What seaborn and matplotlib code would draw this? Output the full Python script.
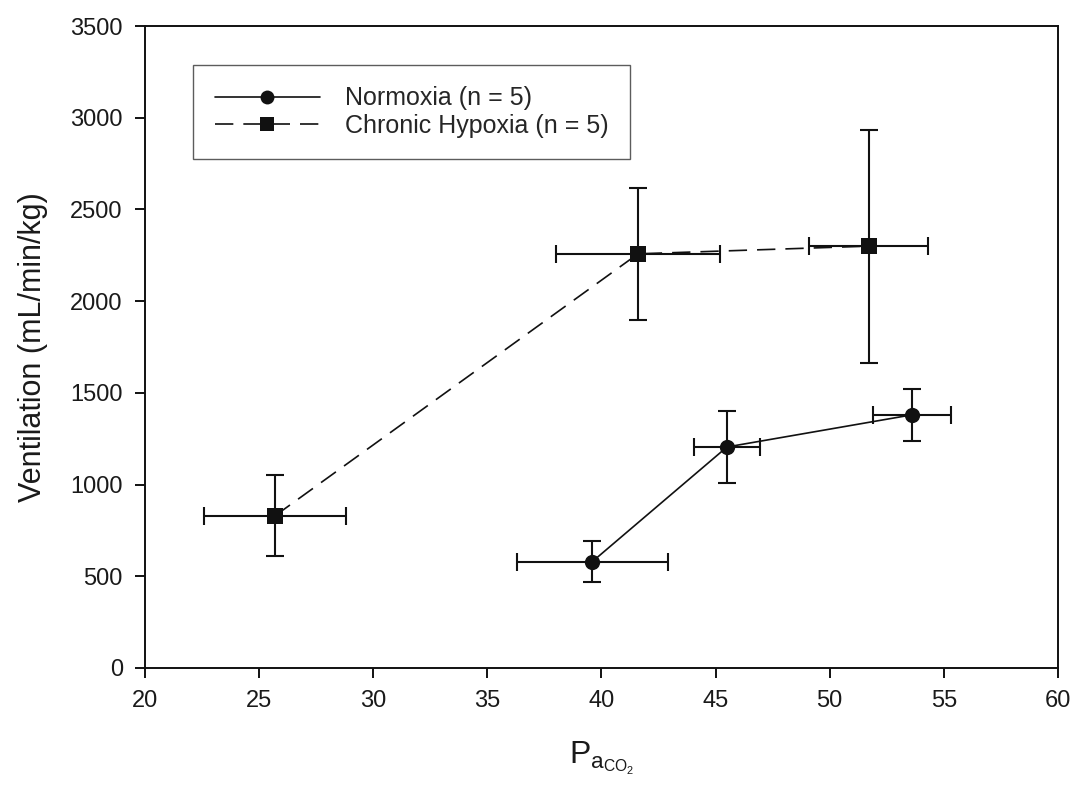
import pandas as pd
import matplotlib.pyplot as plt
import seaborn as sns
from matplotlib.lines import Line2D

# data
groups = ['Normoxia (n = 5)', 'Chronic Hypoxia (n = 5)']
norm_x = [39.6, 45.5, 53.6]
norm_y = [580, 1205, 1380]
norm_xerr = [3.3, 1.45, 1.7]
norm_yerr = [112, 195, 140]
hyp_x = [25.7, 41.6, 51.7]
hyp_y = [830, 2258, 2300]
hyp_xerr = [3.1, 3.6, 2.6]
hyp_yerr = [222, 360, 635]

df = pd.DataFrame({
    'x': norm_x + hyp_x,
    'y': norm_y + hyp_y,
    'group': [groups[0]] * 3 + [groups[1]] * 3,
})

sns.set_style('ticks')
plt.rcParams['font.family'] = ['Liberation Sans', 'DejaVu Sans']
plt.rcParams['mathtext.fontset'] = 'custom'
plt.rcParams['mathtext.rm'] = 'Liberation Sans'
plt.rcParams['mathtext.it'] = 'Liberation Sans'

fig = plt.figure(figsize=(10.78, 7.89), dpi=100)
ax = fig.add_axes([0.1345, 0.1534, 0.8469, 0.8136])

dash = (11, 6)
sns.lineplot(data=df, x='x', y='y', style='group', hue='group',
             palette=['#111111', '#111111'],
             markers={groups[0]: 'o', groups[1]: 's'},
             dashes={groups[0]: '', groups[1]: dash},
             markersize=11, linewidth=1.2, markeredgewidth=0,
             sort=False, legend=False, ax=ax)

for xs, ys, xe, ye in [(norm_x, norm_y, norm_xerr, norm_yerr),
                       (hyp_x, hyp_y, hyp_xerr, hyp_yerr)]:
    ax.errorbar(xs, ys, xerr=xe, yerr=ye, fmt='none',
                ecolor='#111111', elinewidth=1.5, capsize=6.5, capthick=1.5)

ax.set_xlim(20, 60)
ax.set_ylim(0, 3500)
ax.set_xticks(range(20, 61, 5))
ax.set_yticks(range(0, 3501, 500))
ax.tick_params(labelsize=17, length=7, width=1.4, color='#111111', labelcolor='#1a1a1a')
ax.tick_params(axis='x', pad=9)
ax.tick_params(axis='y', pad=9)
for s in ax.spines.values():
    s.set_linewidth(1.4)
    s.set_color('#111111')

ax.set_ylabel('Ventilation (mL/min/kg)', fontsize=22, color='#1a1a1a', labelpad=16)
ax.set_xlabel(r'$\mathregular{P_{a_{CO_2}}}$', fontsize=23, color='#1a1a1a', labelpad=20)

handles = [
    Line2D([], [], color='#111111', lw=1.2, marker='o', markersize=10, markeredgewidth=0),
    Line2D([], [], color='#111111', lw=1.2, marker='s', markersize=9.5, markeredgewidth=0,
           dashes=dash),
]
leg = ax.legend(handles, groups, loc='upper left', bbox_to_anchor=(0.053, 0.939),
                borderaxespad=0, fontsize=18, frameon=True, fancybox=False,
                handlelength=4.2, borderpad=0.85, labelspacing=0.15, handletextpad=1.0)
leg.get_frame().set_edgecolor('#333333')
leg.get_frame().set_linewidth(1.0)

fig.savefig('out.png', dpi=100)
